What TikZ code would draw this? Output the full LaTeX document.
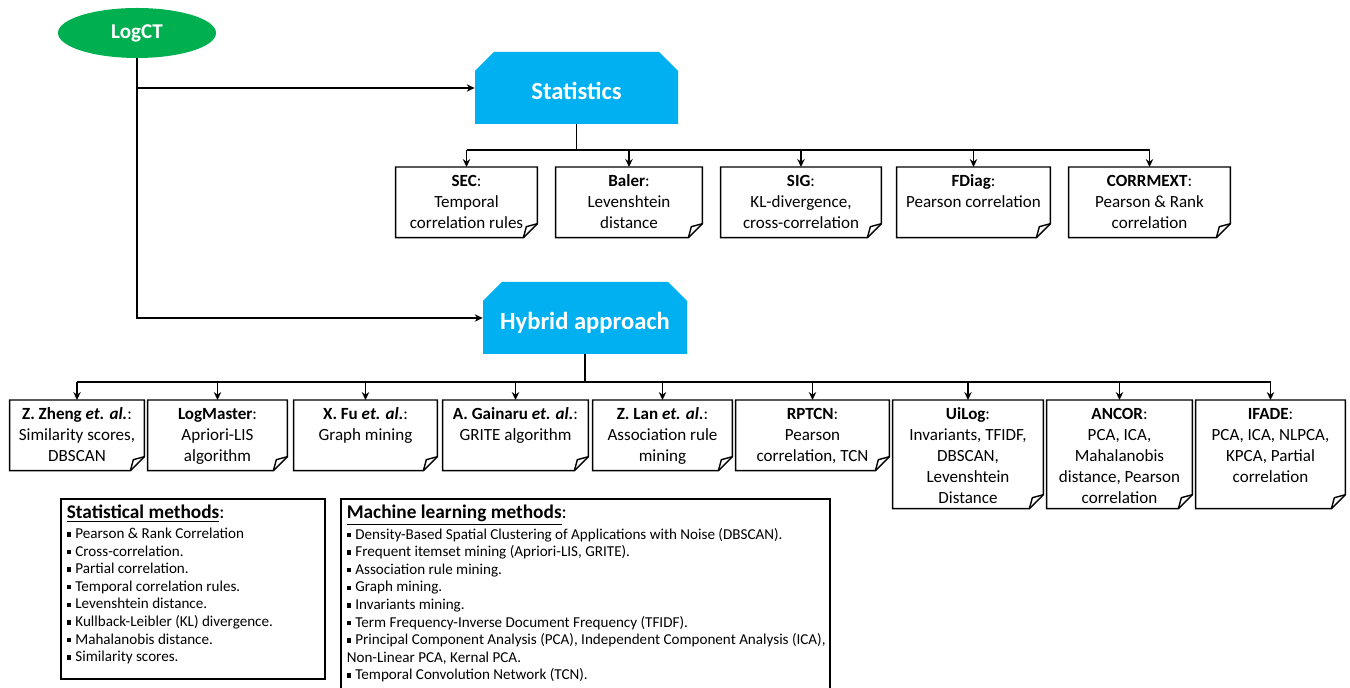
\documentclass[tikz,border=0pt]{standalone}
\usepackage{fontspec}
\setmainfont{Carlito}
\usetikzlibrary{arrows.meta,shapes.geometric,shapes.misc,positioning}
\definecolor{rootgreen}{HTML}{00B050}
\definecolor{catblue}{HTML}{00B0F0}
\newlength{\px}\setlength{\px}{0.02cm}
% top aligned text of a note box: height, width, lines
\newcommand{\notetxt}[3]{\parbox[t][#1\px][t]{#2\px}{\centering\vspace{2.7pt}\strut#3}}
\newcommand{\legtxt}[3]{\parbox[t][#1\px][t]{#2\px}{\raggedright\vspace{1.7pt}#3}}
\newcommand{\sq}{\raisebox{1.1pt}{\rule{2.5pt}{2.5pt}}\hspace{2.4pt}}
\newcommand{\etal}{\textbf{\textit{et. al.}}}

\begin{document}
\begin{tikzpicture}[x=0.02cm, y=-0.02cm,
    root/.style={ellipse, fill=rootgreen, text=white, font=\fontsize{12}{14}\selectfont\bfseries, minimum width=158\px, minimum height=50\px, inner sep=0pt},
    cat/.style={chamfered rectangle, chamfered rectangle corners={north west,north east}, chamfered rectangle xsep=9\px, chamfered rectangle ysep=10\px, fill=catblue, text=white, font=\fontsize{14}{17}\selectfont\bfseries, text height=13pt, text depth=0pt, minimum height=72\px, inner sep=0pt},
    note/.style={inner sep=0pt, anchor=north, font=\fontsize{9.7}{11.9}\selectfont},
    leg/.style={draw, line width=0.9pt, anchor=north west, inner xsep=6\px, inner ysep=0pt, font=\fontsize{8.6}{10}\selectfont},
    edge/.style={line width=0.8pt, line join=miter},
    line/.style={line width=0.9pt},
    arr/.style={-{Stealth[length=4.5pt,width=4.2pt]}, line width=0.9pt}
]
\useasboundingbox (0,0) rectangle (1350,688);
\clip (0,0) rectangle (1350,688);

% root and categories
\node[root] (logct) at (137,33) {LogCT};
\node[cat, minimum width=203\px] (stats) at (576.5,88) {Statistics};
\node[cat, minimum width=204\px] (hybrid) at (585,318) {Hybrid approach};

% statistics tools
\node[note] (sec) at (466.5,167) {\notetxt{70}{141}{\textbf{SEC}:\\Temporal\\correlation rules}};
\node[note] (baler) at (629,167) {\notetxt{70}{146}{\textbf{Baler}:\\Levenshtein\\distance}};
\node[note] (sig) at (801,167) {\notetxt{70}{160}{\textbf{SIG}:\\KL-divergence,\\cross-correlation}};
\node[note] (fdiag) at (973.5,167) {\notetxt{70}{153}{\textbf{FDiag}:\\Pearson correlation}};
\node[note] (corr) at (1149.5,167) {\notetxt{70}{161}{\textbf{CORRMEXT}:\\Pearson \& Rank\\correlation}};

% hybrid tools
\node[note] (zheng) at (77,400) {\notetxt{70}{134}{\textbf{Z. Zheng} \etal:\\Similarity scores,\\DBSCAN}};
\node[note] (logm) at (217.5,400) {\notetxt{70}{139}{\textbf{LogMaster}:\\Apriori-LIS\\algorithm}};
\node[note] (fu) at (365.5,400) {\notetxt{70}{143}{\textbf{X. Fu} \etal:\\Graph mining}};
\node[note] (gain) at (515.5,400) {\notetxt{70}{145}{\textbf{A. Gainaru} \etal:\\GRITE algorithm}};
\node[note] (lan) at (662.5,400) {\notetxt{70}{139}{\textbf{Z. Lan} \etal:\\Association rule\\mining}};
\node[note] (rptcn) at (812.5,400) {\notetxt{70}{153}{\textbf{RPTCN}:\\Pearson\\correlation, TCN}};
\node[note] (uilog) at (968,400) {\notetxt{108}{150}{\textbf{UiLog}:\\Invariants, TFIDF,\\DBSCAN,\\Levenshtein\\Distance}};
\node[note] (ancor) at (1119.5,400) {\notetxt{108}{145}{\textbf{ANCOR}:\\PCA, ICA,\\Mahalanobis\\distance, Pearson\\correlation}};
\node[note] (ifade) at (1270.5,400) {\notetxt{108}{149}{\textbf{IFADE}:\\PCA, ICA, NLPCA,\\KPCA, Partial\\correlation}};

% folded corner outlines
\foreach \n in {sec,baler,sig,fdiag,corr,zheng,logm,fu,gain,lan,rptcn,uilog,ancor,ifade}{
  \draw[edge] (\n.north west) -- (\n.north east) -- ([yshift=14\px]\n.south east) -- ([xshift=-14\px]\n.south east) -- (\n.south west) -- cycle;
  \draw[edge] ([xshift=-14\px]\n.south east) .. controls ([xshift=-12\px,yshift=6\px]\n.south east) .. ([xshift=-11\px,yshift=11\px]\n.south east) -- ([yshift=14\px]\n.south east);
}

% legends
\node[leg] (statleg) at (60,498) {\legtxt{180}{252}{{\fontsize{11}{14}\selectfont\strut\underline{\textbf{Statistical methods}}:\par}
\sq Pearson \& Rank Correlation\\
\sq Cross-correlation.\\
\sq Partial correlation.\\
\sq Temporal correlation rules.\\
\sq Levenshtein distance.\\
\sq Kullback-Leibler (KL) divergence.\\
\sq Mahalanobis distance.\\
\sq Similarity scores.}};
\node[leg] (mlleg) at (340,498) {\legtxt{200}{477}{{\fontsize{11}{14}\selectfont\strut\underline{\textbf{Machine learning methods}}:\par}
\sq Density-Based Spatial Clustering of Applications with Noise (DBSCAN).\\
\sq Frequent itemset mining (Apriori-LIS, GRITE).\\
\sq Association rule mining.\\
\sq Graph mining.\\
\sq Invariants mining.\\
\sq Term Frequency-Inverse Document Frequency (TFIDF).\\
\mbox{\sq Principal Component Analysis (PCA), Independent Component Analysis (ICA),}\\
Non-Linear PCA, Kernal PCA.\\
\sq Temporal Convolution Network (TCN).}};

% connectors
\draw[arr] (logct.south) |- (hybrid.west);
\draw[arr] (logct.south |- stats.west) -- (stats.west);
\coordinate (sbus) at (580,150);
\draw[line] (stats.south) -- (stats.south |- sbus);
\draw[line] (sec.north |- sbus) -- (corr.north |- sbus);
\foreach \n in {sec,baler,sig,fdiag,corr}
  \draw[arr] (\n.north |- sbus) -- (\n.north);
\coordinate (hbus) at (585,382);
\draw[line] (hybrid.south) -- (hybrid.south |- hbus);
\draw[line] (zheng.north |- hbus) -- (ifade.north |- hbus);
\foreach \n in {zheng,logm,fu,gain,lan,rptcn,uilog,ancor,ifade}
  \draw[arr] (\n.north |- hbus) -- (\n.north);
\end{tikzpicture}
\end{document}
